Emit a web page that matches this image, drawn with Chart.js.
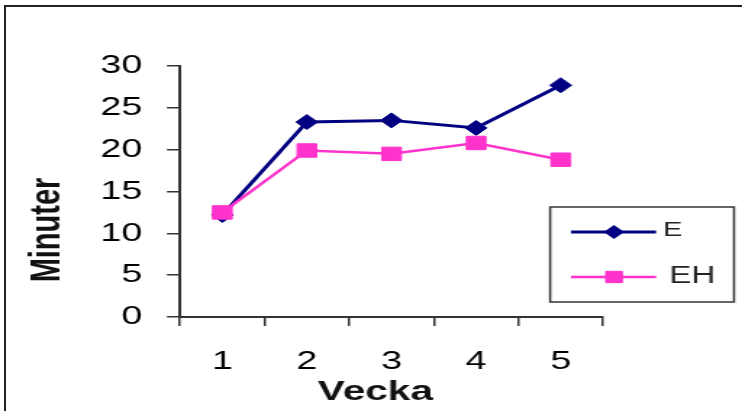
<!DOCTYPE html>
<html>
<head>
<meta charset="utf-8">
<script src="https://cdn.jsdelivr.net/npm/chart.js@4/dist/chart.umd.min.js"></script>
<style>
  html, body { margin: 0; padding: 0; background: #fff; overflow: hidden; }
  #frame { position: absolute; left: 4px; top: 5px; width: 800px; height: 500px; border-left: 2px solid #222; border-top: 2px solid #222; }
  /* the reference looks stretched sideways, so the chart is drawn narrow and widened */
  #wrap { position: absolute; left: 0; top: 0; width: 512px; height: 411px; transform: scaleX(1.4492); transform-origin: 0 0; }
</style>
</head>
<body>
<div id="frame"></div>
<div id="wrap"><canvas id="chart" width="512" height="411"></canvas></div>
<script>
const weeks = ['1', '2', '3', '4', '5'];
const valuesE = [12.2, 23.3, 23.5, 22.6, 27.7];
const valuesEH = [12.5, 19.9, 19.5, 20.8, 18.8];
const yTicks = [0, 5, 10, 15, 20, 25, 30];
const xTitle = 'Vecka';
const yTitle = 'Minuter';

const font = '"Liberation Sans", Arial, sans-serif';

// titles + boxed legend drawn by hand
const extras = {
  id: 'extras',
  afterDraw(chart) {
    const ctx = chart.ctx;
    ctx.save();
    ctx.fillStyle = '#111';
    ctx.textAlign = 'center';
    ctx.textBaseline = 'middle';
    ctx.font = 'bold 28px ' + font;
    ctx.fillText(xTitle, 259, 392);
    ctx.translate(33, 230);
    ctx.rotate(-Math.PI / 2);
    ctx.font = 'bold 29px ' + font;
    ctx.fillText(yTitle, 0, 0);
    ctx.restore();

    ctx.save();
    ctx.strokeStyle = '#333';
    ctx.lineWidth = 1.5;
    ctx.strokeRect(379.6, 207, 126.9, 95);
    const rows = [
      { y: 232, ty: 230, tx: 457.6, size: 20, r: 6.5 },
      { y: 277, ty: 276.5, tx: 461.7, size: 23, r: 8 }
    ];
    chart.data.datasets.forEach((ds, i) => {
      const row = rows[i];
      ctx.strokeStyle = ds.borderColor;
      ctx.fillStyle = ds.backgroundColor;
      ctx.lineWidth = ds.borderWidth;
      ctx.beginPath();
      ctx.moveTo(394, row.y);
      ctx.lineTo(452.7, row.y);
      ctx.stroke();
      ctx.lineWidth = 1;
      Chart.helpers.drawPoint(ctx, { pointStyle: ds.pointStyle, rotation: 0, radius: row.r, borderWidth: 1 }, 423.7, row.y);
      ctx.fillStyle = '#222';
      ctx.textAlign = 'left';
      ctx.textBaseline = 'middle';
      ctx.font = row.size + 'px ' + font;
      ctx.fillText(ds.label, row.tx, row.ty);
    });
    ctx.restore();
  }
};

new Chart(document.getElementById('chart'), {
  type: 'line',
  data: {
    labels: weeks,
    datasets: [{
      label: 'E',
      data: valuesE,
      borderColor: '#000080',
      backgroundColor: '#000080',
      borderWidth: 3,
      pointStyle: 'rectRot',
      pointRadius: 7.5,
      pointBorderWidth: 1,
      tension: 0,
      order: 2
    }, {
      label: 'EH',
      data: valuesEH,
      borderColor: '#ff33cc',
      backgroundColor: '#ff33cc',
      borderWidth: 2.5,
      pointStyle: 'rect',
      pointRadius: 9.5,
      pointBorderWidth: 1,
      tension: 0,
      order: 1
    }]
  },
  options: {
    responsive: false,
    animation: false,
    layout: { padding: { left: 0, top: 66, right: 95.9, bottom: 0 } },
    plugins: {
      legend: { display: false },
      tooltip: { enabled: false }
    },
    scales: {
      x: {
        offset: true,
        afterFit: (scale) => { scale.height = 94; },
        border: { display: true, color: '#333', width: 2 },
        grid: { offset: true, drawOnChartArea: false, drawTicks: true, tickLength: 9, color: '#333', lineWidth: 1.5 },
        ticks: { color: '#000', padding: 20, font: { family: font, size: 26 } }
      },
      y: {
        min: 0,
        max: 30,
        afterFit: (scale) => { scale.width = 124.2; },
        afterBuildTicks: (scale) => { scale.ticks = yTicks.map(v => ({ value: v })); },
        border: { display: true, color: '#333', width: 2 },
        grid: { drawOnChartArea: false, drawTicks: true, tickLength: 9, color: '#333', lineWidth: 1.5 },
        ticks: { color: '#000', padding: 17, font: { family: font, size: 26 } }
      }
    }
  },
  plugins: [extras]
});
</script>
</body>
</html>
